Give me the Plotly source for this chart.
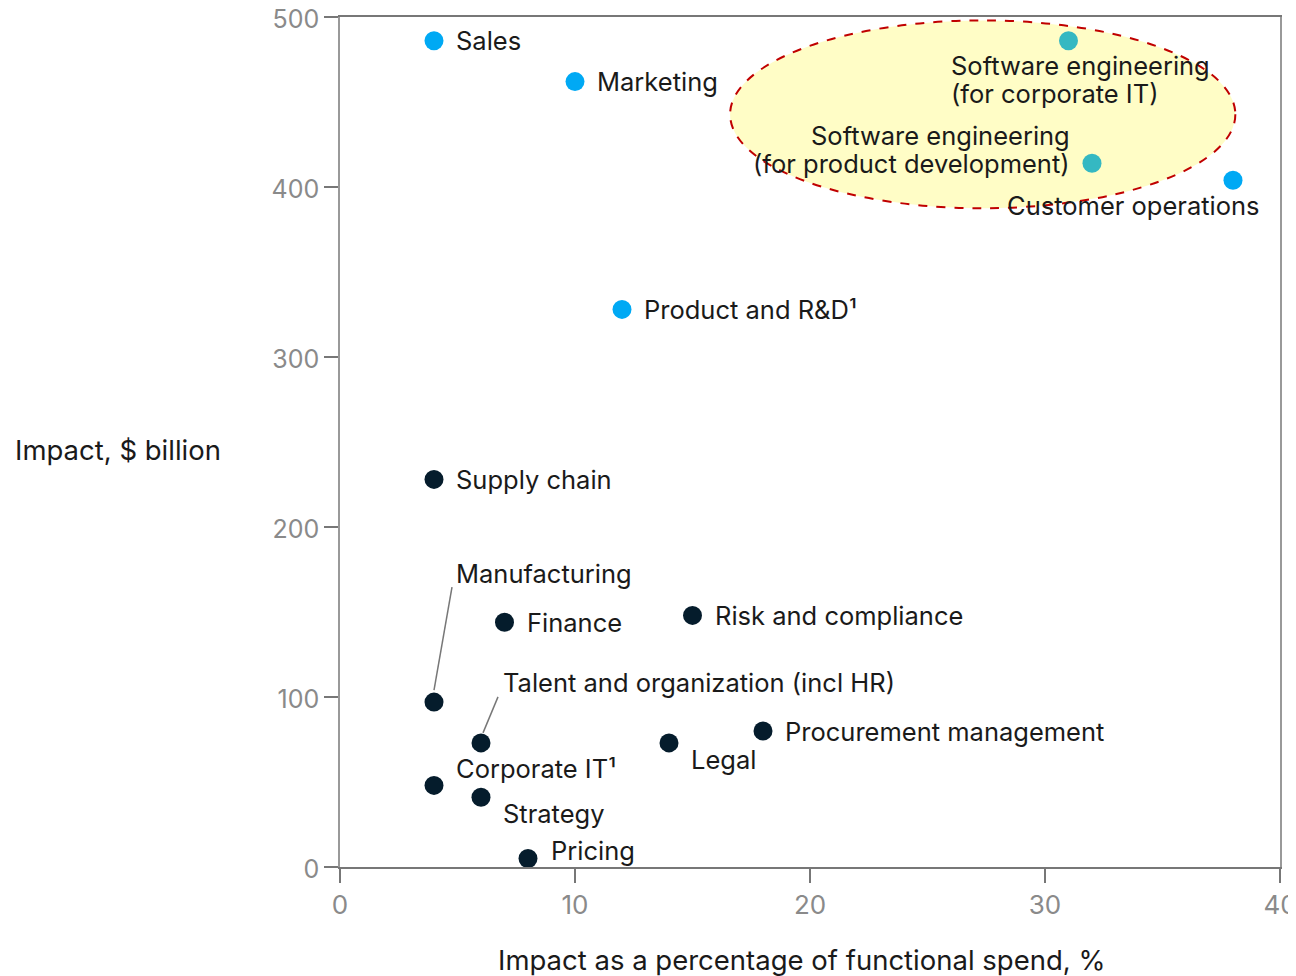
import plotly.graph_objects as go

# ---- data ----
names = ["Sales", "Marketing", "Software engineering<br>(for corporate IT)",
         "Software engineering<br>(for product development)", "Customer operations",
         "Product and R&D¹", "Supply chain", "Manufacturing", "Finance",
         "Risk and compliance", "Talent and organization (incl HR)", "Legal",
         "Procurement management", "Corporate IT¹", "Strategy", "Pricing"]
pct = [4, 10, 31, 32, 38, 12, 4, 4, 7, 15, 6, 14, 18, 4, 6, 8]
impact = [486, 462, 486, 414, 404, 328, 228, 97, 144, 148, 73, 73, 80, 48, 41, 5]
group = ["blue", "blue", "teal", "teal", "blue", "blue", "navy", "navy", "navy",
         "navy", "navy", "navy", "navy", "navy", "navy", "navy"]

# label placement (pixel offsets of first line from point), styling only
label_pos = {
    "Sales": (20, 0, "left"),
    "Marketing": (20, 0, "left"),
    "Software engineering<br>(for corporate IT)": (-120, -25, "left"),
    "Software engineering<br>(for product development)": (-20, 28, "right"),
    "Customer operations": (29, -25, "right"),
    "Product and R&D¹": (20, 0, "left"),
    "Supply chain": (20, 0, "left"),
    "Manufacturing": (20, 129, "left"),
    "Finance": (20, 0, "left"),
    "Risk and compliance": (20, 0, "left"),
    "Talent and organization (incl HR)": (20, 60, "left"),
    "Legal": (20, -17, "left"),
    "Procurement management": (20, 0, "left"),
    "Corporate IT¹": (20, 17, "left"),
    "Strategy": (20, -16, "left"),
    "Pricing": (21, 8, "left"),
}
LINE_GAP = 28
# leader lines: (name, dx0, dy0, dx1, dy1) pixel offsets from point
leaders = [("Manufacturing", 0, 12, 18, 115), ("Talent and organization (incl HR)", 2, 10, 17, 46)]

colors = {"blue": "#00A9F4", "teal": "#35B8C2", "navy": "#051C2C"}
FONT = "Inter, Liberation Sans, Arial, sans-serif"
TXT = "#1a1a1a"

fig = go.Figure()

# highlight ellipse
fig.add_shape(type="circle", xref="x", yref="y", x0=16.6, x1=38.1, y0=387.5, y1=498,
              fillcolor="#FFFDC6", line=dict(color="#C00000", width=2, dash="dash"),
              layer="below")

for g in ["blue", "teal", "navy"]:
    xs = [p for p, gg in zip(pct, group) if gg == g]
    ys = [v for v, gg in zip(impact, group) if gg == g]
    fig.add_trace(go.Scatter(x=xs, y=ys, mode="markers",
                             marker=dict(size=19, color=colors[g], line=dict(width=0)),
                             showlegend=False, hoverinfo="skip"))

for n, x, y in zip(names, pct, impact):
    dx, dy, xa = label_pos[n]
    for k, line in enumerate(n.split("<br>")):
        fig.add_annotation(x=x, y=y, xref="x", yref="y", text=line, showarrow=False,
                           xanchor=xa, yanchor="middle", xshift=dx, yshift=dy - k * LINE_GAP,
                           font=dict(family=FONT, size=25.5, color=TXT))

for n, dx0, dy0, dx1, dy1 in leaders:
    i = names.index(n)
    fig.add_shape(type="line", xref="x", yref="y", xsizemode="pixel", ysizemode="pixel",
                  xanchor=pct[i], yanchor=impact[i], x0=dx0, x1=dx1, y0=dy0, y1=dy1,
                  line=dict(color="#777777", width=1.5))

# axis titles
fig.add_annotation(xref="paper", yref="paper", x=(13 - 340) / 940, y=(867 - 450) / 850,
                   text="Impact, $ billion", showarrow=False, xanchor="left", yanchor="middle",
                   font=dict(family=FONT, size=27.5, color=TXT))
fig.add_annotation(xref="paper", yref="paper", x=(801 - 340) / 940, y=(867 - 960) / 850,
                   text="Impact as a percentage of functional spend, %", showarrow=False,
                   xanchor="center", yanchor="middle",
                   font=dict(family=FONT, size=27.5, color=TXT))

fig.update_xaxes(range=[0, 40], tickvals=[0, 10, 20, 30, 40], showgrid=False, zeroline=False,
                 automargin=False, ticklabeloverflow="allow",
                 showline=True, linecolor="#777777", linewidth=2, mirror=True,
                 ticks="outside", ticklen=14, tickcolor="#777777", tickwidth=1.5,
                 tickfont=dict(family=FONT, size=26, color="#8a8a8a"))
fig.update_yaxes(range=[0, 500], tickvals=[0, 100, 200, 300, 400, 500], showgrid=False,
                 automargin=False, ticklabeloverflow="allow", ticklabelshift=2,
                 zeroline=False, showline=True, linecolor="#999999", linewidth=1.5, mirror=True,
                 ticks="outside", ticklen=14, tickcolor="#777777", tickwidth=1.5,
                 tickfont=dict(family=FONT, size=25, color="#8a8a8a"))

# page has an 8px body margin, so the figure is sized to fit inside the window
fig.update_layout(width=1288, height=968, margin=dict(l=332, r=16, t=9, b=109),
                  plot_bgcolor="white", paper_bgcolor="white")

fig.write_html("out.html")
